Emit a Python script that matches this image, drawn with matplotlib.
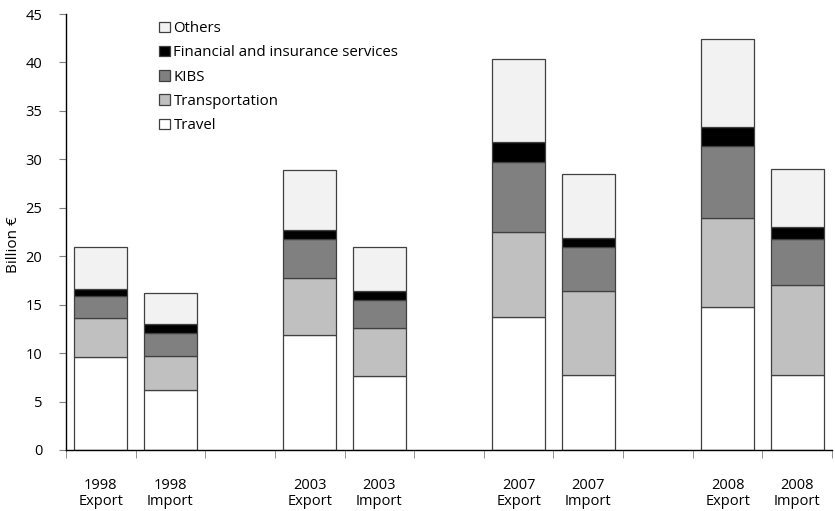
import numpy as np
import matplotlib.pyplot as plt
from matplotlib.ticker import FixedLocator, NullFormatter

plt.rcParams['font.family'] = ['Open Sans', 'DejaVu Sans']

# one empty slot between year groups
labels = ['1998\nExport', '1998\nImport', '',
          '2003\nExport', '2003\nImport', '',
          '2007\nExport', '2007\nImport', '',
          '2008\nExport', '2008\nImport']
slots = [0, 1, 3, 4, 6, 7, 9, 10]

# billion euro
travel = [9.6, 6.2, 11.9, 7.6, 13.7, 7.7, 14.8, 7.7]
transport = [4.0, 3.5, 5.8, 5.0, 8.8, 8.7, 9.1, 9.3]
kibs = [2.25, 2.4, 4.1, 2.9, 7.2, 4.6, 7.5, 4.8]
financial = [0.75, 0.9, 0.95, 0.9, 2.1, 0.85, 1.95, 1.25]
others = [4.35, 3.2, 6.1, 4.6, 8.55, 6.6, 9.05, 5.95]

series = [('Travel', travel, 'white'),
          ('Transportation', transport, '#c0c0c0'),
          ('KIBS', kibs, '#808080'),
          ('Financial and insurance services', financial, 'black'),
          ('Others', others, '#f2f2f2')]

fig = plt.figure(figsize=(8.35, 5.11), dpi=100)
ax = fig.add_axes([0.079, 0.1194, 0.9175, 0.8532])

bottom = np.zeros(len(slots))
handles = []
for name, vals, col in series:
    b = ax.bar(slots, vals, width=0.76, bottom=bottom, color=col,
               edgecolor='#404040', linewidth=0.9, label=name)
    handles.append(b)
    bottom += np.array(vals)

ax.set_xlim(-0.5, 10.5)
ax.set_ylim(0, 45)
ax.set_yticks(range(0, 46, 5))
ax.tick_params(axis='y', direction='out', length=5, color='#808080',
               labelsize=10.5, pad=12)

# labels at slot centres, tick marks at slot boundaries
ax.set_xticks(range(11))
ax.set_xticklabels(labels, linespacing=1.15)
ax.tick_params(axis='x', which='major', length=0, labelsize=10.5, pad=20)
ax.xaxis.set_minor_locator(FixedLocator(np.arange(-0.5, 11, 1)))
ax.xaxis.set_minor_formatter(NullFormatter())
ax.tick_params(axis='x', which='minor', direction='out', length=6,
               color='#808080')

for s in ['top', 'right']:
    ax.spines[s].set_visible(False)
ax.spines['left'].set_linewidth(1.0)
ax.spines['bottom'].set_linewidth(1.0)

ax.set_ylabel('Billion €', fontsize=11)
ax.yaxis.set_label_coords(-0.059, 0.47)

ax.legend(handles[::-1], [h.get_label() for h in handles[::-1]],
          loc='upper left', bbox_to_anchor=(0.108, 1.008), frameon=False,
          fontsize=10.8, handlelength=0.7, handleheight=0.7,
          handletextpad=0.25, labelspacing=0.62, borderaxespad=0.3)

fig.savefig('out.png', dpi=100)
